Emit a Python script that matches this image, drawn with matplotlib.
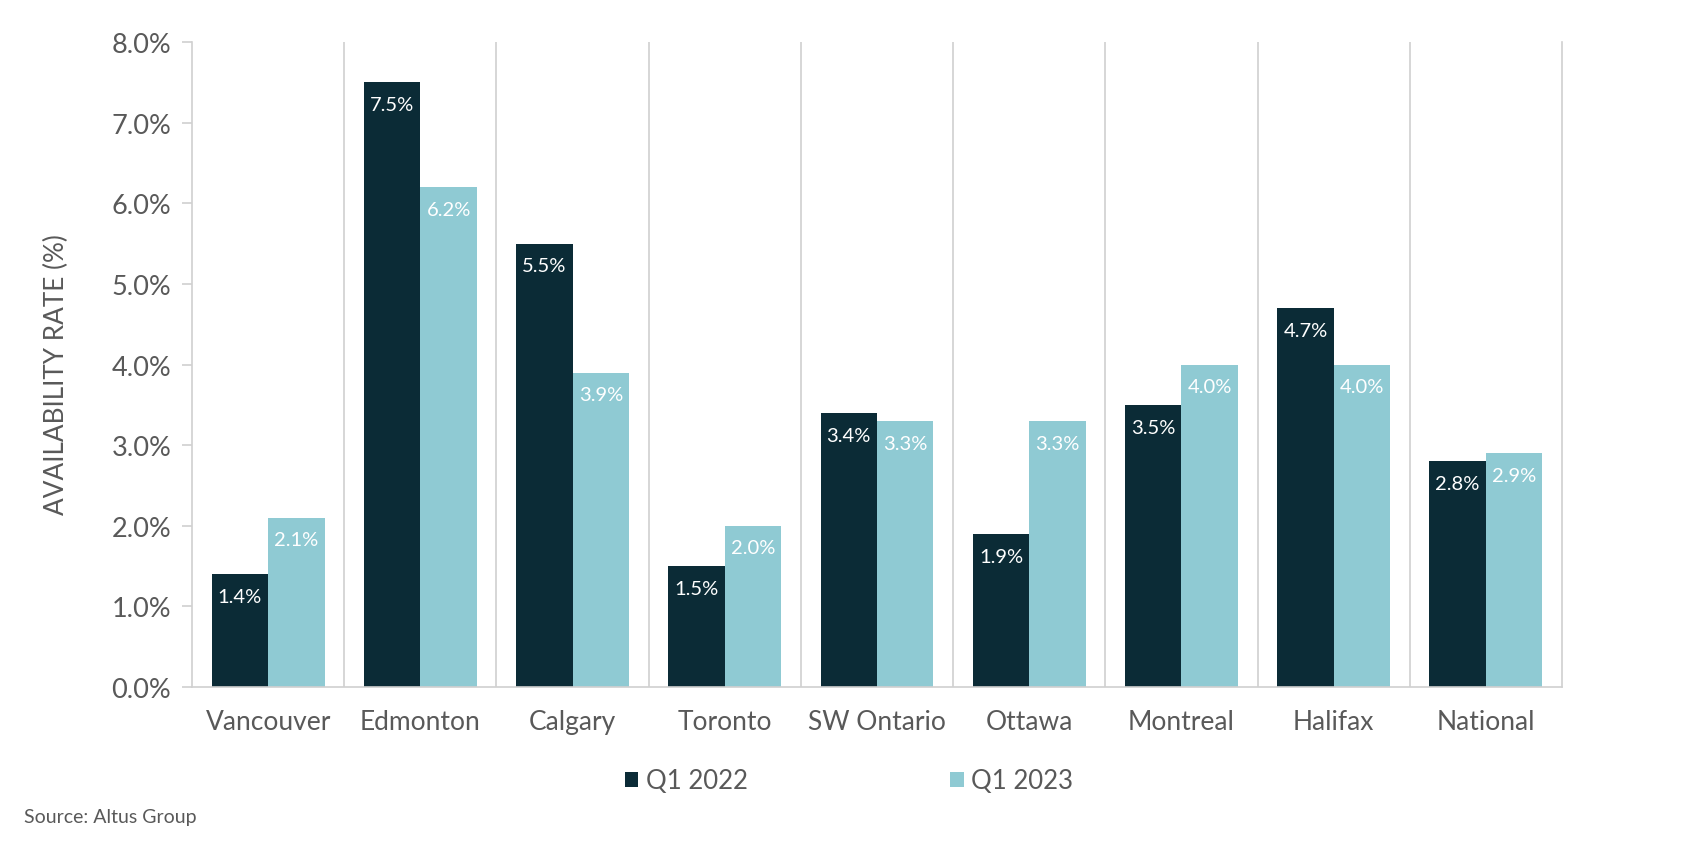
import matplotlib
matplotlib.use("Agg")
import matplotlib.pyplot as plt
import numpy as np
from matplotlib.ticker import FuncFormatter, MultipleLocator

categories = ["Vancouver", "Edmonton", "Calgary", "Toronto", "SW Ontario",
              "Ottawa", "Montreal", "Halifax", "National"]
q1_2022 = [1.4, 7.5, 5.5, 1.5, 3.4, 1.9, 3.5, 4.7, 2.8]
q1_2023 = [2.1, 6.2, 3.9, 2.0, 3.3, 3.3, 4.0, 4.0, 2.9]
series_names = ["Q1 2022", "Q1 2023"]
ylabel = "AVAILABILITY RATE (%)"
source = "Source: Altus Group"

plt.rcParams['font.family'] = ['Lato', 'DejaVu Sans']
dark = "#0B2B36"
light = "#8FCAD3"
text_gray = "#595959"
line_gray = "#D0D0D0"

W, H = 1690, 853
fig = plt.figure(figsize=(W / 100, H / 100), dpi=100)
ax = fig.add_axes([192 / W, 1 - 688 / H, (1562 - 192) / W, (688 - 43) / H])

x = np.arange(len(categories))
bw = 0.371
b1 = ax.bar(x - bw / 2, q1_2022, width=bw, color=dark, label=series_names[0])
b2 = ax.bar(x + bw / 2, q1_2023, width=bw, color=light, label=series_names[1])

for bars, vals in ((b1, q1_2022), (b2, q1_2023)):
    for rect, v in zip(bars, vals):
        ax.annotate(f"{v:.1f}%", (rect.get_x() + rect.get_width() / 2, v),
                    xytext=(0, -16), textcoords="offset points",
                    ha="center", va="center", color="white", fontsize=14.5)

ax.set_xlim(-0.5, len(categories) - 0.5)
ax.set_ylim(0, 8.0)
ax.yaxis.set_major_locator(MultipleLocator(1.0))
ax.yaxis.set_major_formatter(FuncFormatter(lambda v, p: f"{v:.1f}%"))

for xv in np.arange(0.5, len(categories) - 0.5, 1.0):
    ax.axvline(xv, color=line_gray, lw=1.2, zorder=0)

ax.spines["top"].set_visible(False)
for s in ("left", "right", "bottom"):
    ax.spines[s].set_color(line_gray)
    ax.spines[s].set_linewidth(1.2)

ax.set_xticks(x)
ax.set_xticklabels(categories, fontsize=19, color=text_gray)
ax.tick_params(axis="x", length=0, pad=16)
ax.tick_params(axis="y", length=7, color=line_gray, width=1.2,
               labelsize=19.5, labelcolor=text_gray, pad=8)

fig.text(56 / W, 1 - 375 / H, ylabel, rotation=90, ha="center", va="center",
         fontsize=18.8, color=text_gray)

fig.legend(handles=[b1, b2], labels=series_names, loc="center",
           bbox_to_anchor=(849 / W, 1 - 782 / H), ncol=2, frameon=False,
           fontsize=18.5, labelcolor=text_gray, handlelength=0.52, handleheight=0.52,
           handletextpad=0.28, columnspacing=7.9)

fig.text(24 / W, 1 - 818 / H, source, ha="left", va="center",
         fontsize=14, color=text_gray)

fig.savefig("out.png", dpi=100)
